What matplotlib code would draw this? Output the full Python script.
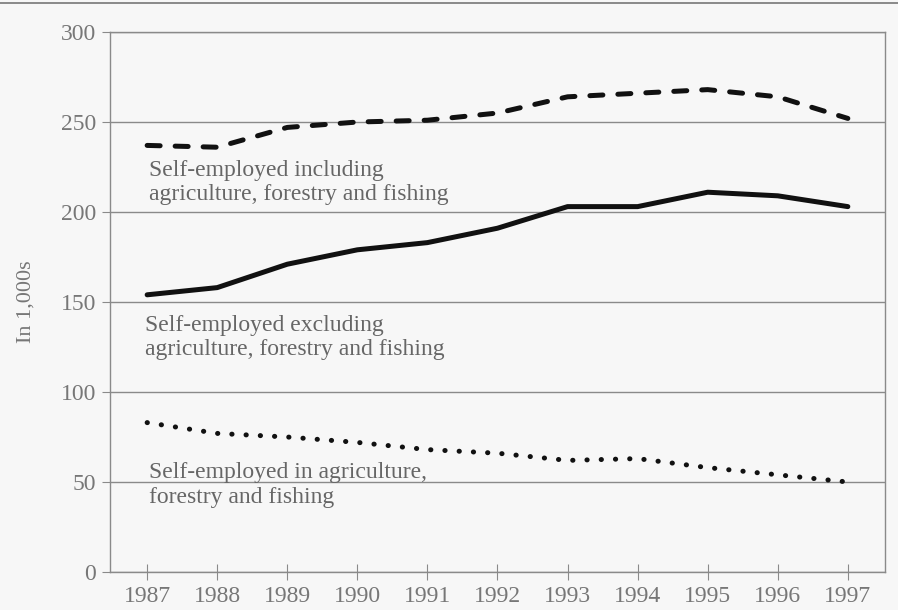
import matplotlib
matplotlib.use("Agg")
import matplotlib.pyplot as plt
from matplotlib.lines import Line2D

years = [1987, 1988, 1989, 1990, 1991, 1992, 1993, 1994, 1995, 1996, 1997]
incl_agri = [237, 236, 247, 250, 251, 255, 264, 266, 268, 264, 252]
excl_agri = [154, 158, 171, 179, 183, 191, 203, 203, 211, 209, 203]
agri_only = [83, 77, 75, 72, 68, 66, 62, 63, 58, 54, 50]
y_ticks = [0, 50, 100, 150, 200, 250, 300]

labels = [
    (1987.03, 229, "Self-employed including\nagriculture, forestry and fishing"),
    (1986.97, 143, "Self-employed excluding\nagriculture, forestry and fishing"),
    (1987.03, 61, "Self-employed in agriculture,\nforestry and fishing"),
]

plt.rcParams['font.family'] = ['Liberation Serif', 'DejaVu Serif']

bg = "#f7f7f7"
fig = plt.figure(figsize=(8.98, 6.10), dpi=100, facecolor=bg)
ax = fig.add_axes([0.1225, 0.0623, 0.8630, 0.8852], facecolor=bg)

ax.plot(years, incl_agri, color="#111111", lw=3.6, linestyle=(0, (2.6, 3.0)),
        dash_capstyle="round", solid_joinstyle="round")
ax.plot(years, excl_agri, color="#111111", lw=3.6, solid_capstyle="round",
        solid_joinstyle="round")
ax.plot(years, agri_only, color="#111111", lw=3.6, linestyle=(0, (0.05, 2.8)),
        dash_capstyle="round")

for x, y, txt in labels:
    ax.text(x, y, txt, fontsize=17, color="#666666", va="top", ha="left",
            linespacing=1.22)

ax.set_xlim(1986.47, 1997.53)
ax.set_ylim(0, 300)
ax.set_yticks(y_ticks)
ax.set_xticks(years)
ax.set_xticklabels([str(y) for y in years])
ax.yaxis.grid(True, color="#8a8a8a", lw=1.0)
ax.set_axisbelow(True)

for side in ["left", "right", "bottom", "top"]:
    ax.spines[side].set_color("#8a8a8a")
    ax.spines[side].set_linewidth(1.0)

ax.tick_params(axis="y", direction="out", length=6, color="#8a8a8a",
               labelsize=17, labelcolor="#777777", pad=4)
ax.tick_params(axis="x", direction="inout", length=12, color="#8a8a8a",
               labelsize=17, labelcolor="#777777", pad=4)

ax.set_ylabel("In 1,000s", fontsize=16, color="#777777", labelpad=18)

fig.add_artist(Line2D([0, 1], [0.995, 0.995], transform=fig.transFigure,
                      color="#777777", lw=1.2))

fig.savefig("out.png", dpi=100, facecolor=bg)
